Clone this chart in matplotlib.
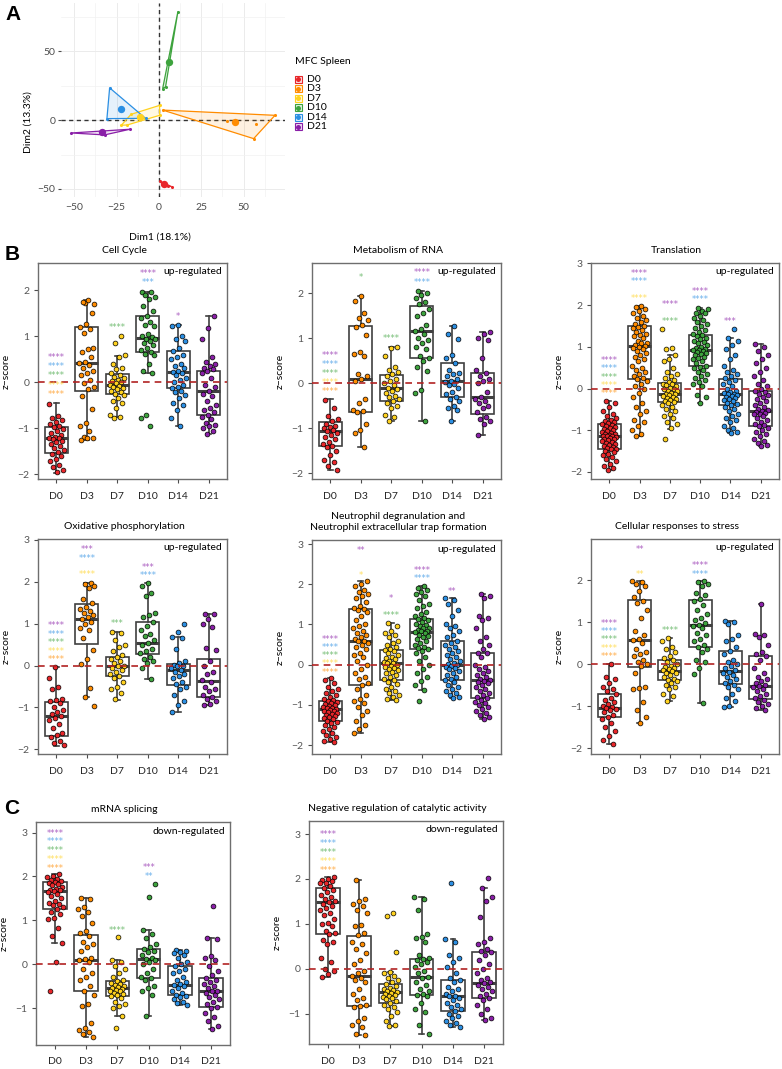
import matplotlib.pyplot as plt
from matplotlib.patches import Polygon, Rectangle
import numpy as np

plt.rcParams['font.family'] = ['Lato', 'DejaVu Sans']
plt.rcParams['axes.unicode_minus'] = True

W, H = 782, 1069

groups = ['D0', 'D3', 'D7', 'D10', 'D14', 'D21']
colors = ['#E8262A', '#FF8C00', '#FFD21F', '#3DA33D', '#2B8FE3', '#8A1FA8']

# ---- panel A: PCA individuals ----
pca_points = [
    [(0.4, -44.2), (2.0, -46.5), (4.0, -46.8), (5.5, -47.5), (7.5, -48.3)],
    [(2.2, 7.2), (68.5, 3.4), (55.9, -13.5), (40.2, -0.7), (57.1, -2.6)],
    [(0.4, 10.6), (0.4, 3.4), (-8.1, 1.4), (-16.5, 4.1), (-22.2, -3.8), (-18.7, -3.6)],
    [(11.2, 78.6), (2.2, 22.8), (3.9, 24.0)],
    [(-29.1, 23.3), (-30.7, 1.0), (-7.9, 1.2)],
    [(-51.8, -9.4), (-32.1, -10.8), (-17.1, -6.7), (-33.7, -9.1)],
]
pca_centroids = [(3.0, -46.6), (44.7, -1.4), (-11.0, 2.2), (5.9, 41.8), (-22.4, 8.2), (-33.5, -8.9)]

# ---- panels B/C: box stats [whislo, q1, med, q3, whishi] and points ----
cc_box = [[-1.97, -1.54, -1.22, -0.98, -0.45], [-1.25, -0.20, 0.41, 1.19, 1.79],
          [-0.75, -0.25, -0.05, 0.19, 0.58], [0.20, 0.65, 0.96, 1.45, 1.97],
          [-0.94, -0.12, 0.22, 0.67, 1.25], [-1.12, -0.71, -0.19, 0.25, 1.45]]
cc_pts = [
    [-0.47, -0.73, -0.78, -0.82, -0.86, -0.9, -0.95, -0.98, -1.02, -1.05, -1.1, -1.14, -1.18, -1.2, -1.22, -1.24,
     -1.27, -1.3, -1.33, -1.38, -1.42, -1.47, -1.52, -1.55, -1.6, -1.66, -1.72, -1.8, -1.85, -1.9, -1.94],
    [1.72, 1.7, 1.78, 1.75, 1.5, 1.27, 1.2, 1.15, 1.07, 0.75, 0.72, 0.66, 0.55, 0.45, 0.42, 0.38, 0.32, 0.25, 0.2,
     0.15, 0.05, -0.02, -0.1, -0.15, -0.3, -0.58, -0.88, -0.95, -1.05, -1.18, -1.2, -1.22, -1.25],
    [1.0, 0.85, 0.6, 0.55, 0.4, 0.32, 0.28, 0.2, 0.15, 0.12, 0.1, 0.05, 0.02, 0.0, -0.02, -0.05, -0.07, -0.1, -0.12,
     -0.15, -0.18, -0.22, -0.25, -0.28, -0.35, -0.4, -0.45, -0.55, -0.72, -0.75, -0.77],
    [1.97, 1.95, 1.9, 1.85, 1.8, 1.65, 1.55, 1.45, 1.4, 1.3, 1.25, 1.22, 1.05, 1.0, 0.98, 0.95, 0.93, 0.9, 0.85, 0.8,
     0.75, 0.7, 0.65, 0.62, 0.6, 0.4, 0.25, 0.2, -0.72, -0.78, -0.95],
    [1.25, 1.22, 1.0, 0.95, 0.9, 0.75, 0.67, 0.6, 0.55, 0.5, 0.4, 0.35, 0.3, 0.25, 0.22, 0.2, 0.15, 0.1, 0.05, 0.0,
     -0.05, -0.1, -0.12, -0.18, -0.22, -0.28, -0.35, -0.45, -0.5, -0.6, -0.78, -0.95],
    [1.45, 1.17, 0.95, 0.55, 0.45, 0.4, 0.35, 0.3, 0.28, 0.25, 0.2, 0.1, -0.05, -0.1, -0.2, -0.25, -0.3, -0.4, -0.5,
     -0.55, -0.6, -0.65, -0.7, -0.75, -0.8, -0.88, -0.92, -0.95, -1.0, -1.05, -1.12],
]
cc_stars = [(0, 5, '****', 0.56), (0, 4, '****', 0.36), (0, 3, '****', 0.17), (0, 2, '****', -0.04),
            (0, 1, '****', -0.24), (2, 3, '****', 1.21), (3, 5, '****', 2.39), (3, 4, '***', 2.18), (4, 5, '*', 1.46)]

met_box = [[-1.93, -1.39, -1.07, -0.86, -0.36], [-1.42, -0.63, 0.09, 1.27, 1.93],
           [-0.85, -0.39, -0.11, 0.19, 0.81], [-0.85, 0.57, 1.15, 1.71, 2.05],
           [-0.85, -0.31, 0.04, 0.45, 1.26], [-1.16, -0.68, -0.30, 0.22, 1.13]]
met_pts = [
    [-0.37, -0.55, -0.72, -0.8, -0.85, -0.9, -0.95, -0.98, -1.0, -1.03, -1.07, -1.1, -1.15, -1.2, -1.25, -1.3,
     -1.35, -1.4, -1.42, -1.5, -1.6, -1.7, -1.75, -1.85, -1.93],
    [1.93, 1.82, 1.55, 1.45, 1.4, 1.3, 1.25, 1.07, 0.7, 0.65, 0.6, 0.2, 0.15, 0.1, 0.05, -0.35, -0.45, -0.6, -0.62,
     -0.65, -0.9, -1.05, -1.1, -1.42],
    [0.8, 0.78, 0.6, 0.35, 0.3, 0.25, 0.2, 0.15, 0.1, 0.05, 0.0, -0.05, -0.1, -0.12, -0.18, -0.22, -0.28, -0.3,
     -0.35, -0.4, -0.45, -0.5, -0.55, -0.7, -0.75, -0.85],
    [2.05, 2.0, 1.95, 1.9, 1.8, 1.75, 1.65, 1.55, 1.5, 1.3, 1.2, 1.15, 1.1, 1.0, 0.95, 0.9, 0.8, 0.75, 0.6, 0.55,
     0.5, 0.35, 0.28, -0.15, -0.22, -0.85],
    [1.26, 1.1, 0.98, 0.62, 0.55, 0.45, 0.3, 0.22, 0.2, 0.15, 0.1, 0.05, 0.02, -0.02, -0.05, -0.1, -0.2, -0.25,
     -0.3, -0.35, -0.4, -0.5, -0.55, -0.6, -0.85],
    [1.13, 1.1, 1.0, 0.95, 0.55, 0.3, 0.22, 0.15, 0.1, 0.05, 0.0, -0.2, -0.3, -0.35, -0.4, -0.45, -0.5, -0.55,
     -0.65, -0.75, -0.8, -0.85, -0.9, -1.16],
]
met_stars = [(0, 5, '****', 0.64), (0, 4, '****', 0.44), (0, 3, '****', 0.24), (0, 2, '****', 0.04),
             (0, 1, '****', -0.16), (1, 3, '*', 2.37), (2, 3, '****', 1.01), (3, 5, '****', 2.47),
             (3, 4, '****', 2.25)]

tr_box = [[-1.95, -1.44, -1.14, -0.84, -0.30], [-1.15, 0.22, 1.03, 1.49, 1.98],
          [-0.97, -0.33, -0.12, 0.14, 0.81], [-0.35, 0.54, 0.92, 1.29, 1.94],
          [-1.07, -0.39, -0.14, 0.23, 1.21], [-1.39, -0.89, -0.54, -0.07, 1.06]]
tr_pts = [
    [-0.3, -0.35, -0.45, -0.55, -0.6, -0.65, -0.7, -0.75, -0.78, -0.8, -0.82, -0.84, -0.87, -0.9, -0.92, -0.95,
     -0.97, -1.0, -1.02, -1.04, -1.06, -1.08, -1.1, -1.12, -1.13, -1.14, -1.15, -1.17, -1.19, -1.2, -1.22, -1.24,
     -1.26, -1.28, -1.3, -1.32, -1.35, -1.38, -1.4, -1.42, -1.44, -1.46, -1.5, -1.53, -1.56, -1.6, -1.65, -1.7,
     -1.75, -1.8, -1.85, -1.9, -1.95],
    [1.98, 1.95, 1.9, 1.85, 1.8, 1.75, 1.7, 1.65, 1.6, 1.55, 1.5, 1.48, 1.45, 1.4, 1.35, 1.3, 1.28, 1.25, 1.2, 1.15,
     1.1, 1.08, 1.05, 1.03, 1.0, 0.98, 0.95, 0.9, 0.85, 0.8, 0.75, 0.7, 0.65, 0.55, 0.5, 0.45, 0.4, 0.35, 0.3, 0.25,
     0.22, 0.18, 0.1, 0.05, 0.0, -0.1, -0.2, -0.35, -0.45, -0.55, -0.6, -0.75, -0.8, -0.9, -1.0, -1.1, -1.15],
    [1.42, 0.98, 0.95, 0.8, 0.7, 0.65, 0.5, 0.4, 0.35, 0.3, 0.25, 0.2, 0.15, 0.12, 0.1, 0.08, 0.05, 0.02, 0.0,
     -0.02, -0.05, -0.07, -0.1, -0.12, -0.13, -0.15, -0.17, -0.2, -0.22, -0.25, -0.28, -0.3, -0.33, -0.35, -0.4,
     -0.45, -0.5, -0.55, -0.6, -0.65, -0.7, -0.8, -0.85, -0.95, -1.2],
    [1.94, 1.9, 1.85, 1.82, 1.8, 1.75, 1.7, 1.65, 1.6, 1.55, 1.5, 1.45, 1.4, 1.35, 1.3, 1.28, 1.25, 1.2, 1.18,
     1.15, 1.12, 1.1, 1.05, 1.0, 0.98, 0.95, 0.93, 0.92, 0.9, 0.88, 0.85, 0.82, 0.8, 0.75, 0.72, 0.7, 0.65, 0.6,
     0.55, 0.52, 0.5, 0.45, 0.4, 0.35, 0.3, 0.25, 0.2, 0.15, 0.1, 0.05, -0.15, -0.2, -0.35],
    [1.42, 1.22, 1.15, 1.05, 0.95, 0.8, 0.7, 0.55, 0.45, 0.4, 0.35, 0.3, 0.25, 0.2, 0.15, 0.1, 0.05, 0.0, -0.05,
     -0.08, -0.1, -0.12, -0.14, -0.16, -0.18, -0.2, -0.22, -0.25, -0.28, -0.3, -0.35, -0.38, -0.4, -0.45, -0.5,
     -0.55, -0.6, -0.65, -0.7, -0.75, -0.8, -0.9, -0.95, -1.0, -1.05, -1.07],
    [1.06, 1.0, 0.9, 0.8, 0.7, 0.6, 0.5, 0.4, 0.3, 0.2, 0.1, 0.05, 0.0, -0.05, -0.08, -0.12, -0.15, -0.2, -0.25,
     -0.3, -0.35, -0.4, -0.45, -0.5, -0.52, -0.54, -0.56, -0.58, -0.6, -0.62, -0.65, -0.7, -0.75, -0.8, -0.85,
     -0.88, -0.9, -0.95, -1.0, -1.05, -1.1, -1.15, -1.2, -1.25, -1.3, -1.35, -1.39],
]
tr_stars = [(0, 5, '****', 0.70), (0, 4, '****', 0.50), (0, 3, '****', 0.30), (0, 2, '****', 0.10),
            (0, 1, '****', -0.10), (1, 5, '****', 2.78), (1, 4, '****', 2.58), (1, 2, '****', 2.18),
            (2, 5, '****', 2.04), (2, 3, '****', 1.64), (3, 5, '****', 2.35), (3, 4, '****', 2.15),
            (4, 5, '***', 1.64)]

ox_box = [[-1.92, -1.69, -1.20, -0.86, -0.04], [-0.76, 0.52, 1.11, 1.46, 1.97],
          [-0.82, -0.26, -0.02, 0.20, 0.81], [-0.32, 0.27, 0.55, 1.04, 1.96],
          [-1.10, -0.46, -0.11, 0.04, 0.69], [-0.95, -0.75, -0.38, 0.15, 1.24]]
ox_pts = [
    [-0.04, -0.3, -0.5, -0.55, -0.8, -0.82, -0.85, -0.9, -1.0, -1.05, -1.1, -1.15, -1.2, -1.25, -1.3, -1.4, -1.5,
     -1.6, -1.65, -1.7, -1.8, -1.85, -1.9],
    [1.97, 1.95, 1.9, 1.85, 1.6, 1.5, 1.4, 1.35, 1.3, 1.25, 1.2, 1.15, 1.1, 1.05, 1.0, 0.9, 0.85, 0.65, 0.38, 0.15,
     0.03, -0.53, -0.76, -0.97],
    [0.81, 0.78, 0.6, 0.5, 0.45, 0.35, 0.25, 0.2, 0.15, 0.1, 0.05, 0.0, -0.02, -0.05, -0.1, -0.15, -0.2, -0.25,
     -0.3, -0.4, -0.5, -0.55, -0.65, -0.8],
    [1.96, 1.9, 1.72, 1.65, 1.25, 1.2, 1.15, 1.05, 0.95, 0.85, 0.75, 0.7, 0.6, 0.55, 0.5, 0.4, 0.35, 0.3, 0.2, 0.15,
     0.1, 0.05, -0.05, -0.32],
    [1.0, 0.8, 0.69, 0.65, 0.4, 0.1, 0.05, 0.02, 0.0, -0.02, -0.05, -0.1, -0.15, -0.2, -0.25, -0.3, -0.4, -0.45,
     -0.5, -0.55, -0.7, -0.85, -0.95, -1.1],
    [1.24, 1.22, 1.12, 1.0, 0.92, 0.43, 0.38, 0.1, -0.02, -0.15, -0.2, -0.35, -0.4, -0.5, -0.55, -0.6, -0.7, -0.75,
     -0.8, -0.85, -0.92, -0.95],
]
ox_stars = [(0, 5, '****', 0.97), (0, 4, '****', 0.77), (0, 3, '****', 0.57), (0, 2, '****', 0.36),
            (0, 1, '****', 0.17), (1, 5, '***', 2.79), (1, 4, '****', 2.59), (1, 2, '****', 2.19),
            (2, 3, '***', 1.02), (3, 5, '***', 2.37), (3, 4, '****', 2.17)]

ne_box = [[-1.93, -1.40, -1.10, -0.90, -0.33], [-1.70, -0.51, 0.58, 1.38, 2.07],
          [-0.87, -0.38, 0.03, 0.36, 1.04], [-0.64, 0.40, 0.81, 1.13, 1.96],
          [-0.82, -0.38, 0.00, 0.59, 1.67], [-1.35, -0.84, -0.39, 0.28, 1.75]]
ne_pts = [
    [-0.33, -0.38, -0.45, -0.55, -0.6, -0.65, -0.7, -0.75, -0.8, -0.85, -0.88, -0.9, -0.92, -0.95, -0.98, -1.0,
     -1.02, -1.05, -1.07, -1.08, -1.1, -1.12, -1.14, -1.16, -1.18, -1.2, -1.22, -1.25, -1.28, -1.3, -1.33, -1.36,
     -1.4, -1.43, -1.46, -1.5, -1.55, -1.6, -1.65, -1.7, -1.75, -1.8, -1.85, -1.9, -1.93],
    [2.07, 2.0, 1.95, 1.85, 1.8, 1.75, 1.7, 1.65, 1.55, 1.45, 1.4, 1.38, 1.35, 1.3, 1.2, 1.1, 1.0, 0.95, 0.9, 0.85,
     0.8, 0.75, 0.7, 0.65, 0.6, 0.58, 0.55, 0.5, 0.45, 0.4, 0.3, 0.25, 0.2, 0.1, 0.0, -0.1, -0.2, -0.3, -0.35,
     -0.45, -0.5, -0.6, -0.75, -0.85, -0.9, -0.95, -1.05, -1.15, -1.25, -1.4, -1.5, -1.6, -1.7],
    [1.04, 0.95, 0.85, 0.8, 0.75, 0.7, 0.6, 0.55, 0.5, 0.45, 0.4, 0.36, 0.33, 0.3, 0.25, 0.2, 0.17, 0.13, 0.1,
     0.07, 0.05, 0.03, 0.0, -0.02, -0.05, -0.08, -0.1, -0.13, -0.17, -0.2, -0.25, -0.3, -0.35, -0.38, -0.42,
     -0.48, -0.55, -0.6, -0.65, -0.7, -0.75, -0.8, -0.85, -0.87],
    [1.96, 1.9, 1.85, 1.8, 1.75, 1.7, 1.6, 1.5, 1.45, 1.4, 1.3, 1.25, 1.2, 1.15, 1.13, 1.1, 1.05, 1.0, 0.98, 0.95,
     0.92, 0.9, 0.87, 0.85, 0.83, 0.81, 0.79, 0.75, 0.72, 0.7, 0.65, 0.6, 0.55, 0.5, 0.45, 0.42, 0.4, 0.35, 0.3,
     0.2, 0.1, 0.0, -0.1, -0.2, -0.3, -0.4, -0.5, -0.64, -0.9],
    [1.67, 1.6, 1.5, 1.35, 1.2, 1.0, 0.95, 0.9, 0.85, 0.75, 0.7, 0.6, 0.55, 0.5, 0.45, 0.4, 0.35, 0.3, 0.25, 0.2,
     0.15, 0.1, 0.05, 0.02, 0.0, -0.02, -0.05, -0.08, -0.1, -0.15, -0.2, -0.25, -0.3, -0.35, -0.38, -0.42, -0.5,
     -0.55, -0.6, -0.65, -0.7, -0.75, -0.8, -0.82],
    [1.75, 1.72, 1.65, 1.2, 1.15, 1.1, 0.9, 0.7, 0.6, 0.5, 0.4, 0.3, 0.28, 0.2, 0.0, -0.05, -0.1, -0.15, -0.2,
     -0.25, -0.3, -0.35, -0.38, -0.4, -0.42, -0.45, -0.5, -0.55, -0.6, -0.65, -0.7, -0.75, -0.8, -0.84, -0.88,
     -0.92, -0.95, -1.0, -1.05, -1.1, -1.15, -1.2, -1.25, -1.3, -1.35],
]
ne_stars = [(0, 5, '****', 0.64), (0, 4, '****', 0.45), (0, 3, '****', 0.25), (0, 2, '****', 0.05),
            (0, 1, '****', -0.16), (1, 5, '**', 2.86), (1, 2, '*', 2.25), (2, 5, '*', 1.67),
            (2, 3, '****', 1.25), (3, 5, '****', 2.37), (3, 4, '****', 2.16), (4, 5, '**', 1.84)]

st_box = [[-1.90, -1.25, -1.04, -0.72, 0.00], [-1.40, -0.06, 0.57, 1.52, 1.98],
          [-0.87, -0.37, -0.16, 0.10, 0.62], [-0.93, 0.40, 0.94, 1.52, 1.98],
          [-1.02, -0.48, -0.16, 0.32, 1.03], [-1.10, -0.83, -0.52, 0.20, 1.43]]
st_pts = [
    [0.0, -0.3, -0.35, -0.45, -0.55, -0.6, -0.65, -0.72, -0.8, -0.85, -0.9, -0.95, -1.0, -1.02, -1.05, -1.08,
     -1.1, -1.15, -1.2, -1.25, -1.3, -1.4, -1.5, -1.6, -1.7, -1.8, -1.9],
    [1.98, 1.95, 1.9, 1.85, 1.75, 1.6, 1.5, 1.45, 1.3, 1.1, 0.8, 0.7, 0.6, 0.57, 0.5, 0.35, 0.3, 0.25, 0.2, 0.1,
     0.05, 0.0, -0.05, -0.2, -0.55, -0.58, -0.6, -0.9, -1.1, -1.25, -1.4],
    [0.62, 0.55, 0.4, 0.35, 0.3, 0.2, 0.15, 0.1, 0.05, 0.0, -0.05, -0.08, -0.1, -0.12, -0.15, -0.17, -0.2, -0.22,
     -0.25, -0.3, -0.35, -0.37, -0.4, -0.45, -0.5, -0.55, -0.6, -0.7, -0.77, -0.87],
    [1.98, 1.95, 1.9, 1.85, 1.7, 1.65, 1.55, 1.5, 1.4, 1.3, 1.2, 1.1, 1.05, 0.98, 0.94, 0.9, 0.85, 0.75, 0.7, 0.6,
     0.55, 0.45, 0.4, 0.35, 0.3, 0.1, 0.05, -0.1, -0.23, -0.93],
    [1.03, 1.0, 0.95, 0.7, 0.6, 0.55, 0.4, 0.32, 0.25, 0.1, 0.05, 0.0, -0.05, -0.1, -0.15, -0.18, -0.2, -0.25,
     -0.3, -0.35, -0.4, -0.45, -0.5, -0.55, -0.6, -0.7, -0.8, -0.88, -1.0, -1.02],
    [1.43, 0.72, 0.7, 0.65, 0.45, 0.3, 0.25, 0.2, 0.1, -0.1, -0.2, -0.3, -0.35, -0.4, -0.45, -0.5, -0.52, -0.55,
     -0.6, -0.65, -0.7, -0.75, -0.8, -0.85, -0.9, -0.95, -1.0, -1.05, -1.1],
]
st_stars = [(0, 5, '****', 1.00), (0, 4, '****', 0.80), (0, 3, '****', 0.60), (0, 2, '****', 0.40),
            (0, 1, '****', 0.21), (1, 5, '**', 2.76), (1, 2, '**', 2.17), (2, 3, '****', 0.82),
            (3, 5, '****', 2.37), (3, 4, '****', 2.17)]

mr_box = [[0.48, 1.26, 1.66, 1.87, 2.05], [-1.65, -0.60, 0.09, 0.66, 1.52],
          [-1.18, -0.73, -0.54, -0.38, 0.09], [-1.18, -0.31, 0.12, 0.35, 0.78],
          [-0.92, -0.69, -0.47, -0.05, 0.32], [-1.48, -0.98, -0.62, -0.31, 0.60]]
mr_pts = [
    [2.05, 2.0, 1.98, 1.95, 1.92, 1.9, 1.88, 1.85, 1.82, 1.8, 1.75, 1.72, 1.7, 1.68, 1.66, 1.64, 1.6, 1.55, 1.5,
     1.45, 1.4, 1.38, 1.35, 1.3, 1.26, 1.2, 1.15, 1.05, 1.03, 0.82, 0.65, 0.48, 0.05, -0.61],
    [1.52, 1.48, 1.3, 1.25, 1.2, 1.1, 0.95, 0.75, 0.72, 0.65, 0.5, 0.45, 0.4, 0.3, 0.15, 0.12, 0.09, 0.05, -0.1,
     -0.2, -0.3, -0.35, -0.5, -0.6, -0.7, -0.9, -0.95, -1.35, -1.45, -1.5, -1.55, -1.6, -1.65],
    [0.62, 0.09, 0.05, -0.05, -0.1, -0.2, -0.3, -0.35, -0.38, -0.42, -0.45, -0.48, -0.5, -0.52, -0.54, -0.56,
     -0.58, -0.6, -0.62, -0.65, -0.68, -0.7, -0.73, -0.78, -0.85, -0.9, -0.95, -1.0, -1.18, -1.45],
    [1.82, 1.53, 0.78, 0.7, 0.6, 0.45, 0.4, 0.35, 0.3, 0.28, 0.2, 0.15, 0.12, 0.1, 0.05, 0.0, -0.1, -0.2, -0.3,
     -0.31, -0.35, -0.5, -0.55, -0.6, -0.7, -1.18],
    [0.32, 0.3, 0.28, 0.25, 0.2, 0.15, 0.05, 0.0, -0.05, -0.1, -0.15, -0.2, -0.3, -0.35, -0.4, -0.45, -0.47, -0.5,
     -0.55, -0.6, -0.65, -0.69, -0.72, -0.75, -0.8, -0.85, -0.88, -0.92],
    [1.33, 0.6, 0.58, 0.18, 0.15, 0.1, -0.05, -0.15, -0.25, -0.31, -0.35, -0.4, -0.45, -0.5, -0.55, -0.6, -0.62,
     -0.65, -0.7, -0.75, -0.8, -0.85, -0.9, -0.98, -1.0, -1.1, -1.2, -1.3, -1.4, -1.48],
]
mr_stars = [(0, 5, '****', 3.01), (0, 4, '****', 2.81), (0, 3, '****', 2.61), (0, 2, '****', 2.41),
            (0, 1, '****', 2.21), (2, 3, '****', 0.80), (3, 5, '***', 2.22), (3, 4, '**', 2.02)]

ng_box = [[-0.18, 0.77, 1.48, 1.81, 2.04], [-1.47, -0.82, -0.16, 0.73, 1.97],
          [-1.28, -0.75, -0.51, -0.33, -0.06], [-1.45, -0.58, -0.17, 0.23, 1.60],
          [-1.29, -0.93, -0.61, -0.25, 0.66], [-1.14, -0.64, -0.31, 0.38, 1.81]]
ng_pts = [
    [2.04, 2.0, 1.98, 1.95, 1.92, 1.9, 1.85, 1.81, 1.75, 1.7, 1.65, 1.6, 1.55, 1.5, 1.48, 1.45, 1.4, 1.35, 1.3,
     1.25, 1.2, 1.1, 1.02, 1.0, 0.95, 0.85, 0.8, 0.77, 0.65, 0.6, 0.55, 0.25, 0.15, 0.0, -0.05, -0.12, -0.18],
    [1.97, 1.55, 1.5, 1.45, 1.4, 1.3, 1.25, 0.98, 0.95, 0.8, 0.75, 0.6, 0.55, 0.45, 0.35, 0.2, 0.1, -0.05, -0.1,
     -0.16, -0.2, -0.25, -0.3, -0.45, -0.55, -0.65, -0.7, -0.8, -0.82, -0.85, -1.1, -1.15, -1.25, -1.3, -1.45,
     -1.47],
    [1.24, 1.18, 0.37, -0.06, -0.1, -0.15, -0.2, -0.25, -0.3, -0.33, -0.38, -0.42, -0.45, -0.48, -0.5, -0.51,
     -0.53, -0.55, -0.58, -0.6, -0.63, -0.65, -0.68, -0.72, -0.75, -0.8, -0.85, -0.9, -0.95, -1.05, -1.15, -1.25,
     -1.28],
    [1.6, 1.55, 1.32, 0.78, 0.7, 0.68, 0.6, 0.3, 0.25, 0.23, 0.2, 0.15, 0.1, 0.05, -0.05, -0.1, -0.17, -0.2, -0.3,
     -0.35, -0.45, -0.5, -0.55, -0.58, -0.6, -0.75, -0.9, -0.95, -1.25, -1.45],
    [1.91, 0.66, 0.6, 0.3, 0.25, 0.15, 0.05, -0.1, -0.2, -0.25, -0.3, -0.4, -0.45, -0.5, -0.55, -0.6, -0.61,
     -0.65, -0.7, -0.75, -0.8, -0.85, -0.9, -0.93, -1.0, -1.05, -1.1, -1.15, -1.2, -1.25, -1.29],
    [2.02, 1.81, 1.6, 1.5, 1.15, 0.68, 0.6, 0.55, 0.45, 0.4, 0.38, 0.3, 0.2, 0.1, 0.0, -0.1, -0.2, -0.25, -0.3,
     -0.31, -0.35, -0.4, -0.45, -0.5, -0.55, -0.6, -0.64, -0.7, -0.8, -0.9, -1.0, -1.1, -1.14],
]
ng_stars = [(0, 5, '****', 3.01), (0, 4, '****', 2.81), (0, 3, '****', 2.61), (0, 2, '****', 2.41),
            (0, 1, '****', 2.21)]

titles = ['Cell Cycle', 'Metabolism of RNA', 'Translation', 'Oxidative phosphorylation',
          'Neutrophil degranulation and\nNeutrophil extracellular trap formation',
          'Cellular responses to stress', 'mRNA splicing', 'Negative regulation of catalytic activity']
notes = ['up-regulated'] * 6 + ['down-regulated'] * 2


def px(l, t, r, b):
    return [l / W, 1 - b / H, (r - l) / W, (b - t) / H]


def hull(pts):
    pts = sorted(set(pts))

    def cross(o, a, b):
        return (a[0] - o[0]) * (b[1] - o[1]) - (a[1] - o[1]) * (b[0] - o[0])
    lower, upper = [], []
    for p in pts:
        while len(lower) >= 2 and cross(lower[-2], lower[-1], p) <= 0:
            lower.pop()
        lower.append(p)
    for p in reversed(pts):
        while len(upper) >= 2 and cross(upper[-2], upper[-1], p) <= 0:
            upper.pop()
        upper.append(p)
    return lower[:-1] + upper[:-1]


fig = plt.figure(figsize=(W / 100, H / 100), dpi=100)

# ---------------- A ----------------
axA = fig.add_axes(px(61, 3, 285, 197))
for i, pts in enumerate(pca_points):
    h = hull(pts)
    axA.add_patch(Polygon(h, closed=True, facecolor=colors[i], alpha=0.12, edgecolor='none', zorder=2))
    axA.add_patch(Polygon(h, closed=True, facecolor='none', edgecolor=colors[i], lw=0.9, zorder=3))
    xs, ys = zip(*pts)
    axA.scatter(xs, ys, s=5, color=colors[i], zorder=4, linewidths=0)
    axA.scatter([pca_centroids[i][0]], [pca_centroids[i][1]], s=28, color=colors[i], zorder=5, linewidths=0)
axA.axhline(0, color='#333333', ls=(0, (3, 2.5)), lw=1.0, zorder=1)
axA.axvline(0, color='#333333', ls=(0, (3, 2.5)), lw=1.0, zorder=1)
axA.set_xticks([-50, -25, 0, 25, 50])
axA.set_yticks([-50, 0, 50])
axA.set_xticks([-37.5, -12.5, 12.5, 37.5, 62.5], minor=True)
axA.set_yticks([-25, 25, 75], minor=True)
axA.set_xlim(-57.8, 74.4)
axA.set_ylim(-55.8, 84.8)
axA.grid(True, which='major', color='#EBEBEB', lw=0.7)
axA.grid(True, which='minor', color='#F2F2F2', lw=0.5)
axA.set_axisbelow(True)
for s in axA.spines.values():
    s.set_visible(False)
axA.tick_params(axis='x', length=0, labelsize=7.5, labelcolor='#4D4D4D', pad=4)
axA.tick_params(axis='y', length=2, color='#4D4D4D', labelsize=7.5, labelcolor='#4D4D4D', pad=2)
axA.tick_params(which='minor', length=0)
axA.set_xlabel('Dim1 (18.1%)', fontsize=7.5)
axA.set_ylabel('Dim2 (13.3%)', fontsize=7.5)
axA.xaxis.set_label_coords((160 - 61) / 224, -(233 - 197) / 194)
axA.yaxis.set_label_coords(-(61 - 33) / 224, (197 - 122) / 194)

# legend for A
axL = fig.add_axes(px(285, 50, 360, 135))
axL.set_xlim(285, 360)
axL.set_ylim(135, 50)
axL.axis('off')
axL.text(295, 62, 'MFC Spleen', fontsize=7.5, va='center', ha='left')
for i, g in enumerate(groups):
    y = 79.3 + 9.47 * i
    axL.add_patch(Rectangle((294.5, y - 3.6), 7.2, 7.2, facecolor=colors[i], alpha=0.15, edgecolor='none'))
    axL.add_patch(Rectangle((294.5, y - 3.6), 7.2, 7.2, facecolor='none', edgecolor=colors[i], lw=0.8))
    axL.scatter([298.1], [y], s=13, color=colors[i], linewidths=0)
    axL.text(307, y, g, fontsize=7.5, va='center', ha='left')

# ---------------- B / C ----------------
panels = [
    (cc_box, cc_pts, cc_stars, px(38, 263, 227, 479), (-2.10, 2.59)),
    (met_box, met_pts, met_stars, px(312, 263, 501, 479), (-2.13, 2.67)),
    (tr_box, tr_pts, tr_stars, px(591, 263, 779, 479), (-2.17, 3.01)),
    (ox_box, ox_pts, ox_stars, px(38, 539, 227, 754), (-2.11, 3.02)),
    (ne_box, ne_pts, ne_stars, px(312, 540, 501, 754), (-2.22, 3.10)),
    (st_box, st_pts, st_stars, px(591, 539, 779, 754), (-2.14, 2.98)),
    (mr_box, mr_pts, mr_stars, px(36, 822, 230, 1045), (-1.84, 3.24)),
    (ng_box, ng_pts, ng_stars, px(309, 821, 503, 1044), (-1.67, 3.29)),
]

edge = '#404040'
for k, (box, pts, stars, rect, ylim) in enumerate(panels):
    ax = fig.add_axes(rect)
    stats = [dict(whislo=b[0], q1=b[1], med=b[2], q3=b[3], whishi=b[4], fliers=[]) for b in box]
    ax.bxp(stats, positions=range(1, 7), widths=0.75, showfliers=False, patch_artist=True,
           boxprops=dict(facecolor='white', edgecolor=edge, lw=1.2),
           medianprops=dict(color=edge, lw=2.2, solid_capstyle='butt'),
           whiskerprops=dict(color=edge, lw=1.2), capprops=dict(color=edge, lw=1.2),
           capwidths=0.15, manage_ticks=False, zorder=2)
    for i, vals in enumerate(pts):
        n = len(vals)
        off = ((np.arange(n) * 0.618034 + 0.37 * i + 0.13 * k) % 1 - 0.5) * 0.5
        ax.scatter(i + 1 + off, vals, s=12, color=colors[i], edgecolors='black', linewidths=0.5, zorder=3)
    ax.axhline(0, color='#B22222', lw=1.2, ls=(0, (4, 3)), zorder=4)
    for g, v, lab, y in stars:
        ax.text(g + 1, y, lab, color=colors[v], alpha=0.7, fontsize=6, ha='center', va='center_baseline',
                family='DejaVu Sans', zorder=5)
    ax.set_xticks(range(1, 7))
    ax.set_xticklabels(groups)
    ax.set_yticks(range(-2, 4))
    ax.set_xlim(0.4, 6.6)
    ax.set_ylim(*ylim)
    for s in ax.spines.values():
        s.set_color('#6E6E6E')
        s.set_linewidth(1.0)
    ax.tick_params(axis='both', length=3, color='#4D4D4D', width=0.8)
    ax.tick_params(axis='x', labelsize=7.5, labelcolor='#222222', pad=6)
    ax.tick_params(axis='y', labelsize=7.5, labelcolor='#555555', pad=3)
    ax.set_ylabel('z\u2212score', fontsize=7.5, labelpad=5)
    hpx = rect[3] * H
    nl = titles[k].count('\n')
    ax.text(0.455, 1 + (12.5 + 5.5 * nl) / hpx, titles[k], transform=ax.transAxes, ha='center', va='center',
            fontsize=7.5, linespacing=1.25)
    ax.text(0.975, 1 - 9 / hpx, notes[k], transform=ax.transAxes, ha='right', va='center', fontsize=7.5)

fig.text(13 / W, 1 - 14 / H, 'A', fontsize=15, weight='bold', family='Liberation Sans', ha='center', va='center')
fig.text(12 / W, 1 - 254 / H, 'B', fontsize=15, weight='bold', family='Liberation Sans', ha='center', va='center')
fig.text(12 / W, 1 - 808 / H, 'C', fontsize=15, weight='bold', family='Liberation Sans', ha='center', va='center')

fig.savefig('out.png', dpi=100)
